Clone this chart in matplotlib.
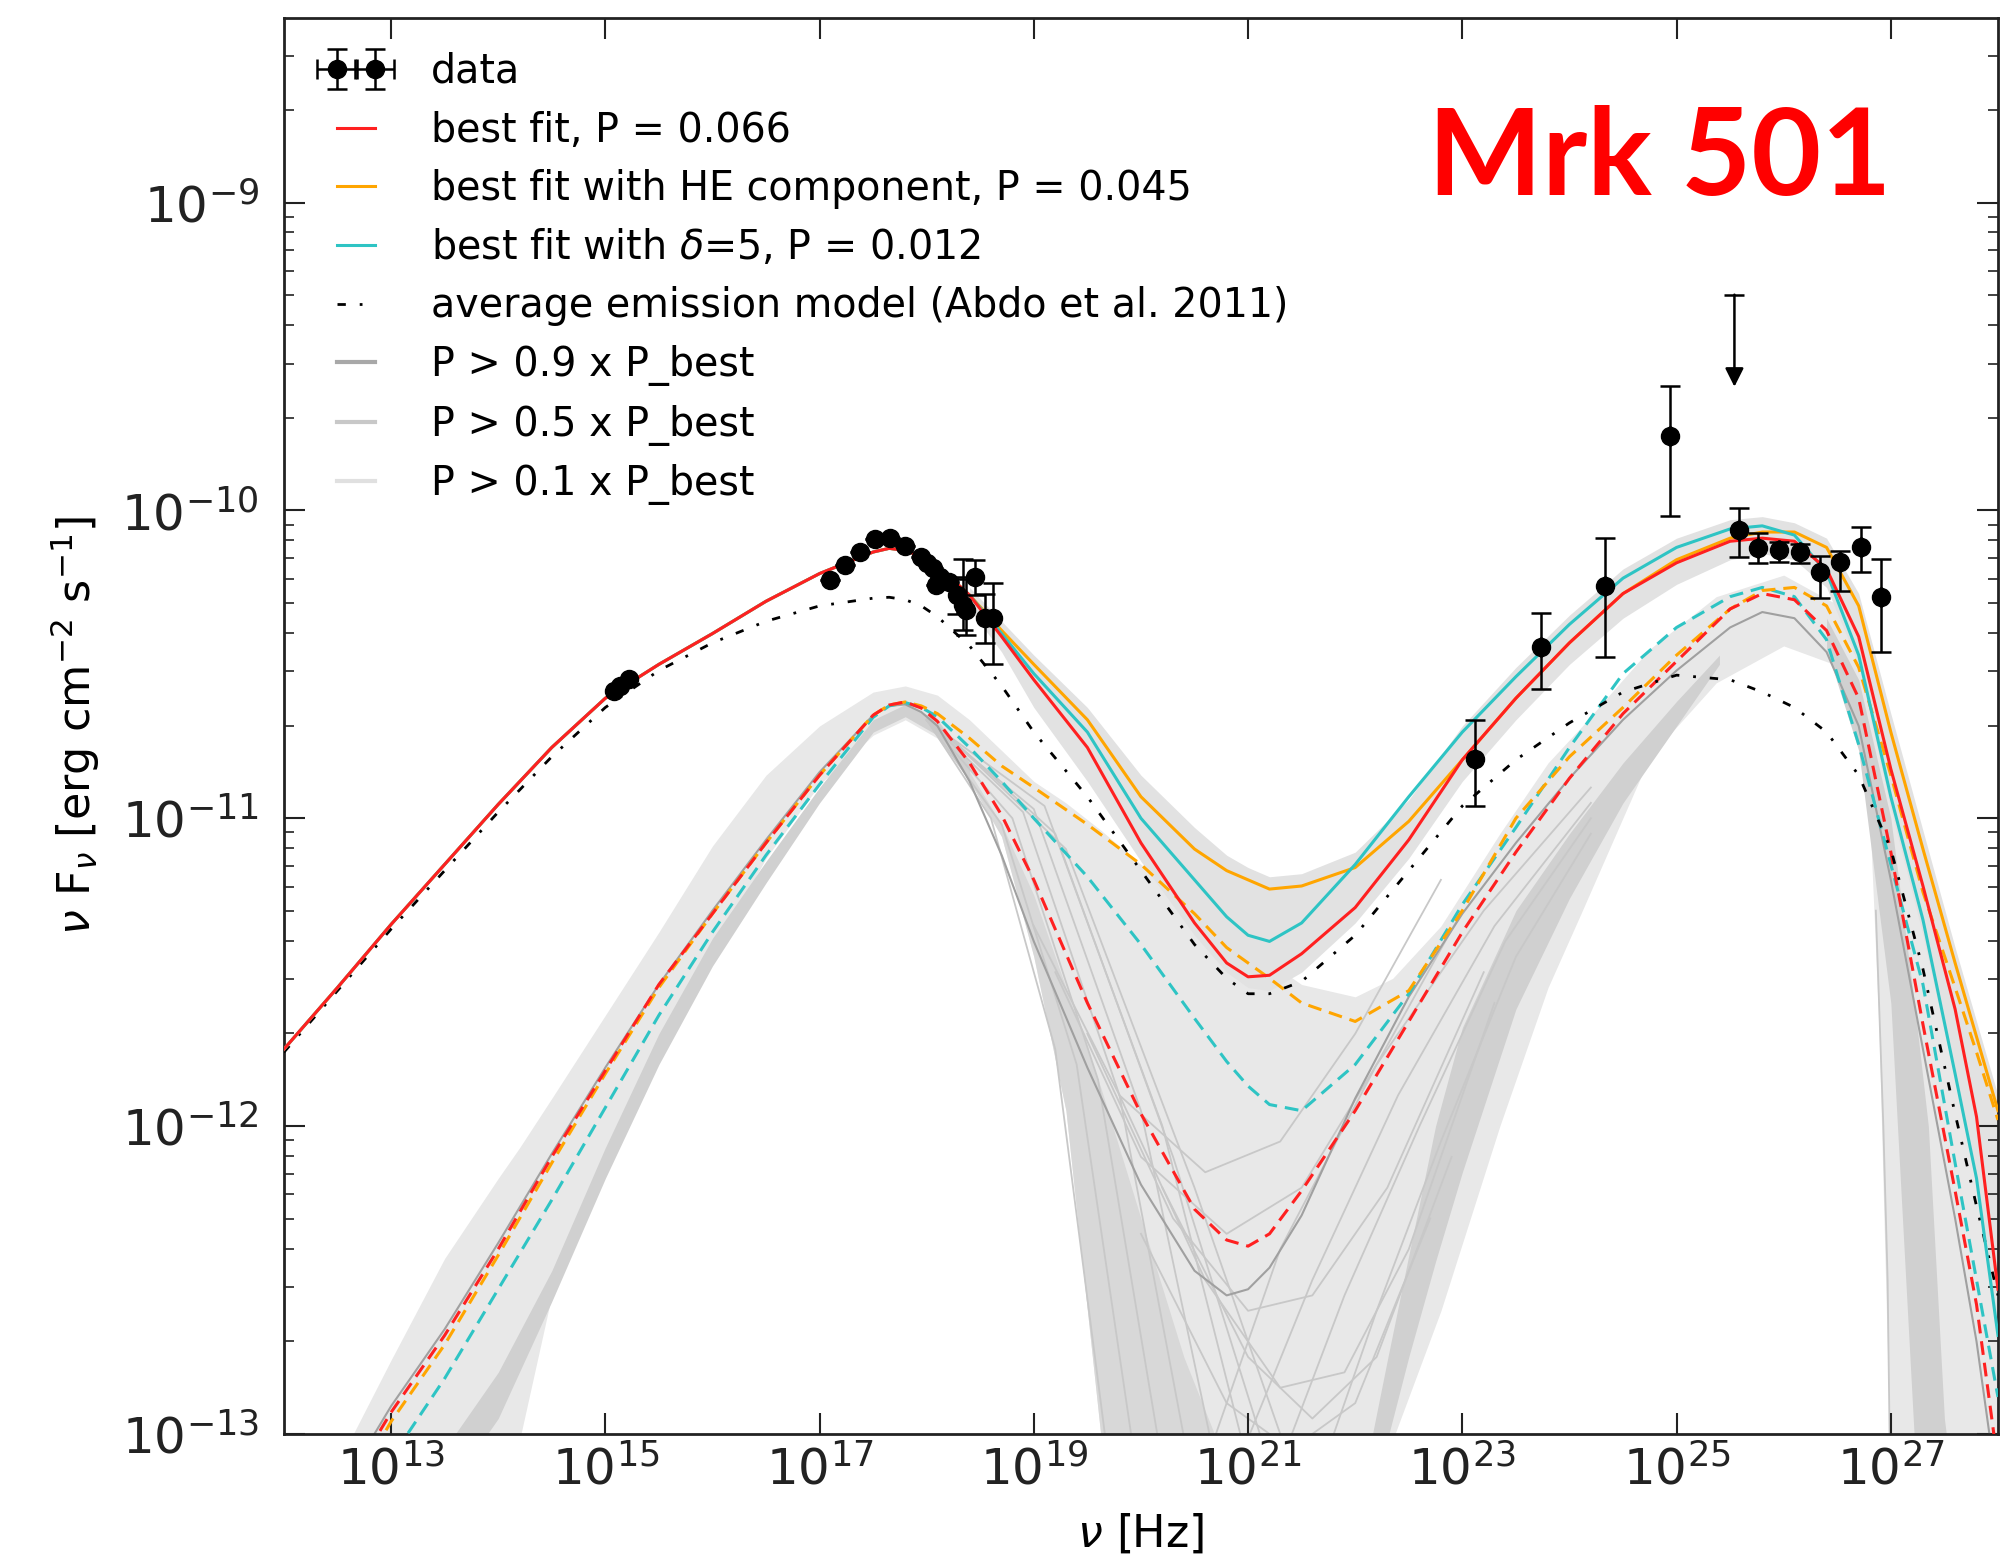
import numpy as np
import matplotlib
matplotlib.use('Agg')
import matplotlib.pyplot as plt
from matplotlib.lines import Line2D
from matplotlib.ticker import NullLocator

plt.rcParams['font.family'] = ['DejaVu Sans']
plt.rcParams['mathtext.fontset'] = 'dejavusans'

## ---------------- model curves (log10 units) ----------------
LOG_NU = [12.0, 12.5, 13.0, 13.5, 14.0, 14.5, 15.0, 15.5, 16.0, 16.5,
          17.0, 17.5, 17.65, 17.8, 17.95, 18.1, 18.4, 18.7, 19.0, 19.5, 20.0, 20.5,
          20.8, 21.0, 21.2, 21.5, 22.0, 22.5, 23.0, 23.5, 24.0, 24.5,
          25.0, 25.5, 25.8, 26.1, 26.4, 26.7, 27.0, 27.3, 27.6, 27.8, 28.0]

best_fit = [-11.75, -11.55, -11.345, -11.15, -10.955, -10.77, -10.61, -10.50, -10.40, -10.295,
            -10.205, -10.135, -10.123, -10.13, -10.15, -10.18, -10.275, -10.41, -10.55, -10.77, -11.08, -11.34,
            -11.47, -11.515, -11.51, -11.44, -11.29, -11.07, -10.81, -10.61, -10.43, -10.27,
            -10.17, -10.10, -10.09, -10.10, -10.19, -10.41, -10.84, -11.22, -11.62, -11.97, -12.53]

best_fit_he = [-11.75, -11.55, -11.345, -11.15, -10.955, -10.77, -10.61, -10.50, -10.40, -10.295,
               -10.205, -10.135, -10.123, -10.13, -10.15, -10.18, -10.275, -10.39, -10.50, -10.68, -10.93, -11.10,
               -11.17, -11.20, -11.23, -11.22, -11.16, -11.01, -10.81, -10.61, -10.43, -10.27,
               -10.16, -10.09, -10.07, -10.07, -10.12, -10.31, -10.72, -11.10, -11.47, -11.71, -11.95]

best_fit_d5 = [-11.75, -11.55, -11.345, -11.15, -10.955, -10.77, -10.61, -10.50, -10.40, -10.295,
               -10.205, -10.135, -10.123, -10.13, -10.15, -10.18, -10.275, -10.40, -10.53, -10.72, -11.00, -11.20,
               -11.32, -11.38, -11.40, -11.34, -11.15, -10.93, -10.72, -10.54, -10.37, -10.22,
               -10.12, -10.06, -10.05, -10.08, -10.20, -10.47, -10.93, -11.33, -11.83, -12.17, -12.68]

abdo_avg = [-11.76, -11.56, -11.36, -11.17, -10.98, -10.80, -10.64, -10.52, -10.43, -10.36,
            -10.31, -10.285, -10.282, -10.29, -10.31, -10.345, -10.44, -10.57, -10.72, -10.93, -11.17, -11.41,
            -11.52, -11.57, -11.57, -11.53, -11.38, -11.17, -10.96, -10.81, -10.69, -10.59,
            -10.535, -10.55, -10.59, -10.64, -10.72, -10.86, -11.10, -11.49, -11.96, -12.26, -12.55]

## second-zone components (dashed)
comp_best = [-13.55, -13.22, -12.93, -12.68, -12.40, -12.10, -11.82, -11.54, -11.31, -11.08,
             -10.86, -10.665, -10.632, -10.622, -10.642, -10.685, -10.82, -10.99, -11.20, -11.60, -11.96, -12.27,
             -12.37, -12.39, -12.35, -12.21, -11.95, -11.66, -11.37, -11.11, -10.87, -10.66,
             -10.49, -10.32, -10.27, -10.29, -10.39, -10.61, -11.11, -11.67, -12.21, -12.58, -13.1]

comp_he = [-13.6, -13.26, -12.96, -12.71, -12.42, -12.12, -11.83, -11.55, -11.31, -11.08,
           -10.86, -10.665, -10.632, -10.622, -10.635, -10.66, -10.74, -10.83, -10.90, -11.02, -11.15, -11.31,
           -11.42, -11.47, -11.52, -11.60, -11.66, -11.56, -11.30, -11.00, -10.80, -10.64,
           -10.47, -10.32, -10.26, -10.25, -10.31, -10.51, -10.86, -11.24, -11.55, -11.76, -11.98]

comp_d5 = [-13.7, -13.37, -13.08, -12.82, -12.53, -12.24, -11.94, -11.64, -11.37, -11.12,
           -10.89, -10.672, -10.635, -10.624, -10.64, -10.67, -10.77, -10.88, -11.00, -11.19, -11.41, -11.65,
           -11.79, -11.87, -11.93, -11.95, -11.80, -11.57, -11.28, -11.03, -10.77, -10.53,
           -10.38, -10.28, -10.25, -10.28, -10.42, -10.76, -11.15, -11.54, -12.12, -12.50, -12.88]

## one darker grey sample curve (P > 0.9)
sample_deep = [-13.5, -13.2, -12.91, -12.66, -12.38, -12.09, -11.81, -11.54, -11.30, -11.07,
               -10.85, -10.665, -10.635, -10.63, -10.655, -10.70, -10.88, -11.12, -11.40, -11.81, -12.19, -12.47,
               -12.55, -12.53, -12.46, -12.29, -11.91, -11.58, -11.31, -11.08, -10.87, -10.68,
               -10.52, -10.38, -10.33, -10.35, -10.46, -10.70, -11.20, -11.75, -12.30, -12.70, -13.2]

## ---------------- grey bands of accepted models ----------------
light_x = [12.5, 13.0, 13.5, 14.0, 14.2, 14.5, 15.0, 15.5, 16.0, 16.5, 17.0, 17.5, 17.8, 18.1,
           18.4, 18.7, 19.0, 19.3, 19.63, 20.0, 20.5, 21.0, 21.5, 22.0, 22.35, 22.8, 23.35,
           23.8, 24.12, 24.75, 25.37, 26.0, 26.47, 26.79, 26.89, 26.99, 27.3, 27.6, 28.0]
light_up = [-13.1, -12.76, -12.43, -12.17, -12.07, -11.91, -11.64, -11.37, -11.09, -10.86, -10.70,
            -10.59, -10.57, -10.60, -10.68, -10.78, -10.88, -10.95, -11.04, -11.15, -11.28, -11.42,
            -11.54, -11.58, -11.52, -11.35, -11.05, -10.82, -10.70, -10.45, -10.28, -10.21, -10.30,
            -10.55, -10.65, -10.78, -11.18, -11.52, -11.95]
light_dn = [-14, -14, -14, -13.6, -13.02, -12.55, -12.12, -11.77, -11.44, -11.13, -10.89,
            -10.73, -10.68, -10.74, -10.88, -11.06, -11.45, -11.95, -13.02, -14, -14, -14,
            -14, -14, -13.02, -12.6, -12.0, -11.55, -11.30, -10.80, -10.56, -10.44, -10.50,
            -10.88, -11.69, -13.02, -14, -14, -14]

top_x = [18.4, 18.7, 19.0, 19.5, 20.0, 20.5, 20.8, 21.0, 21.2, 21.5, 22.0, 22.5, 23.0, 23.5,
         24.0, 24.5, 25.0, 25.5, 25.8, 26.1, 26.4, 26.7, 27.0, 27.3, 27.6, 27.8, 28.0]
top_up = [-10.25, -10.36, -10.47, -10.64, -10.86, -11.03, -11.12, -11.16, -11.19, -11.18, -11.11,
          -10.94, -10.70, -10.51, -10.34, -10.19, -10.09, -10.03, -10.02, -10.04, -10.09, -10.27,
          -10.66, -11.04, -11.42, -11.66, -11.90]
top_dn = [-10.32, -10.46, -10.64, -10.88, -11.14, -11.38, -11.50, -11.55, -11.56, -11.50, -11.34,
          -11.13, -10.88, -10.68, -10.50, -10.35, -10.24, -10.16, -10.14, -10.16, -10.25, -10.50,
          -10.97, -11.38, -11.85, -12.2, -12.7]

dark_sync_x = [13.5, 13.8, 14.0, 14.5, 15.0, 15.5, 16.0, 16.5, 17.0, 17.5, 17.8, 18.1, 18.4]
dark_sync_up = [-13.05, -12.9, -12.8, -12.47, -12.07, -11.70, -11.39, -11.14, -10.90, -10.68, -10.63, -10.68, -10.82]
dark_sync_dn = [-14.0, -13.05, -12.95, -12.57, -12.17, -11.80, -11.48, -11.21, -10.95, -10.72, -10.67, -10.73, -10.88]

dark_wedge_x = [18.4, 18.7, 19.0, 19.3, 19.63, 20.0, 20.4, 20.8]
dark_wedge_up = [-10.85, -11.02, -11.25, -11.55, -11.88, -12.3, -12.75, -13.1]
dark_wedge_dn = [-10.88, -11.06, -11.45, -11.95, -13.02, -14, -14, -14]

dark_rise_x = [22.15, 22.3, 22.5, 22.75, 23.0, 23.5, 24.0, 24.5, 25.0, 25.4]
dark_rise_up = [-13.02, -12.76, -12.42, -12.0, -11.68, -11.3, -11.05, -10.82, -10.62, -10.47]
dark_rise_dn = [-14.0, -13.02, -12.75, -12.44, -12.15, -11.62, -11.26, -10.95, -10.70, -10.50]

dark_fall_x = [26.4, 26.7, 27.0, 27.22, 27.35, 27.5, 27.8]
dark_fall_up = [-10.35, -10.55, -11.0, -11.6, -12.0, -12.95, -13.8]
dark_fall_dn = [-10.45, -10.78, -11.6, -13.02, -14, -14, -14]

## individual grey sample curves in the trough
trough_x = [[18.0, 18.6, 19.2, 19.7], [18.0, 18.7, 19.4, 19.95], [18.0, 18.8, 19.6, 20.2],
            [18.0, 18.9, 19.8, 20.45], [18.0, 19.0, 20.0, 20.7], [18.0, 19.1, 20.2, 21.0],
            [18.1, 19.2, 20.3, 21.2], [18.1, 19.3, 20.5, 21.4],
            [20.6, 21.3, 22.2, 23.2, 24.2], [20.9, 21.6, 22.4, 23.3, 24.2],
            [21.3, 21.9, 22.6, 23.4, 24.2], [21.7, 22.2, 22.8, 23.5, 24.2],
            [19.5, 20.3, 21.0, 21.6, 22.3, 23.2], [19.8, 20.6, 21.3, 21.9, 22.5, 23.3],
            [20.2, 21.0, 21.6, 22.2, 22.9], [19.2, 20.0, 20.8, 21.5, 22.2, 23.0],
            [19.0, 19.8, 20.6, 21.3, 22.0, 22.8], [20.0, 20.8, 21.4, 22.0, 22.7],
            [26.86, 26.93, 26.97, 26.99]]
trough_y = [[-10.68, -11.0, -11.75, -13.1], [-10.68, -11.02, -11.8, -13.1], [-10.68, -11.0, -11.85, -13.1],
            [-10.68, -10.98, -11.9, -13.1], [-10.68, -10.97, -11.95, -13.1], [-10.68, -10.96, -12.0, -13.1],
            [-10.7, -11.05, -12.1, -13.1], [-10.7, -11.1, -12.2, -13.1],
            [-13.1, -12.4, -11.8, -11.3, -10.9], [-13.1, -12.5, -11.9, -11.35, -10.95],
            [-13.1, -12.55, -12.0, -11.4, -11.0], [-13.1, -12.6, -12.05, -11.45, -11.05],
            [-11.7, -12.3, -12.6, -12.55, -12.2, -11.5], [-11.9, -12.5, -12.85, -12.8, -12.4, -11.6],
            [-12.2, -12.75, -12.95, -12.75, -12.1], [-11.5, -12.1, -12.35, -12.2, -11.8, -11.3],
            [-11.35, -11.9, -12.15, -12.05, -11.7, -11.2], [-12.35, -12.9, -13.05, -12.9, -12.3],
            [-11.3, -12.0, -12.5, -13.05]]

## ---------------- data points (log10) ----------------
opt_nu = [15.08, 15.14, 15.22]
opt_f = [-10.585, -10.57, -10.548]

xray_nu = [17.10, 17.24, 17.38, 17.52, 17.66, 17.80, 17.95, 18.00, 18.06, 18.12, 18.09, 18.21,
           18.28, 18.34, 18.37, 18.45, 18.54, 18.62]
xray_f = [-10.226, -10.178, -10.134, -10.094, -10.091, -10.115, -10.15, -10.17, -10.188, -10.215,
          -10.242, -10.231, -10.275, -10.307, -10.323, -10.215, -10.35, -10.35]
xray_lo = [0, 0, 0, 0, 0, 0, 0, 0, 0, 0, 0, 0, 0.06, 0.08, 0.08, 0.06, 0.08, 0.15]
xray_hi = [0, 0, 0, 0, 0, 0, 0, 0, 0, 0, 0, 0, 0.06, 0.15, 0.10, 0.055, 0.08, 0.115]

gamma_nu = [23.12, 23.73, 24.33, 24.94, 25.58, 25.76, 25.96, 26.15, 26.34, 26.53, 26.72, 26.91]
gamma_f = [-10.809, -10.443, -10.246, -9.758, -10.062, -10.121, -10.129, -10.134, -10.199,
           -10.169, -10.118, -10.282]
gamma_low = [-10.96, -10.58, -10.477, -10.018, -10.15, -10.172, -10.168, -10.17, -10.283,
             -10.262, -10.2, -10.46]
gamma_high = [-10.681, -10.334, -10.091, -9.596, -9.991, -10.074, -10.104, -10.108, -10.148,
              -10.132, -10.054, -10.157]

ul_nu = 25.54
ul_top = -9.299
ul_tip = -9.598


def lin(a):
    return 10.0 ** np.asarray(a, dtype=float)


fig = plt.figure(figsize=(20.08, 15.62), dpi=100)
ax = fig.add_axes([0.1414, 0.0820, 0.8536, 0.9065])
ax.set_xscale('log')
ax.set_yscale('log')

LIGHT = '#e8e8e8'
DARK = '#d0d0d0'

## grey bands
ax.fill_between(lin(light_x), lin(light_dn), lin(light_up), color=LIGHT, lw=0, zorder=1)
ax.fill_between(lin(top_x), lin(top_dn), lin(top_up), color='#e2e2e2', lw=0, zorder=1)
ax.fill_between(lin(dark_sync_x), lin(dark_sync_dn), lin(dark_sync_up), color=DARK, lw=0, zorder=1.2)
ax.fill_between(lin(dark_wedge_x), lin(dark_wedge_dn), lin(dark_wedge_up), color='#d8d8d8', lw=0, zorder=1.2)
ax.fill_between(lin(dark_rise_x), lin(dark_rise_dn), lin(dark_rise_up), color=DARK, lw=0, zorder=1.2)
ax.fill_between(lin(dark_fall_x), lin(dark_fall_dn), lin(dark_fall_up), color=DARK, lw=0, zorder=1.2)

for tx, ty in zip(trough_x, trough_y):
    ax.plot(lin(tx), lin(ty), color='#c8c8c8', lw=1.3, zorder=1.5)

nu = lin(LOG_NU)
ax.plot(nu, lin(sample_deep), color='#a0a0a0', lw=1.5, zorder=2)

## components (dashed)
dash = (0, (4.5, 2.6))
ax.plot(nu, lin(comp_d5), color='#2ec4c4', lw=2.2, ls=dash, zorder=3)
ax.plot(nu, lin(comp_he), color='#ffa500', lw=2.2, ls=dash, zorder=3)
ax.plot(nu, lin(comp_best), color='#ff2020', lw=2.2, ls=dash, zorder=3.1)

## total models
l_avg, = ax.plot(nu, lin(abdo_avg), color='k', lw=2.0, ls=(0, (3, 5, 1, 5)), zorder=3.5,
                 label='average emission model (Abdo et al. 2011)')
l_he, = ax.plot(nu, lin(best_fit_he), color='#ffa500', lw=2.2, zorder=4,
                label='best fit with HE component, P = 0.045')
l_d5, = ax.plot(nu, lin(best_fit_d5), color='#2ec4c4', lw=2.2, zorder=4,
                label=r'best fit with $\delta$=5, P = 0.012')
l_best, = ax.plot(nu, lin(best_fit), color='#ff2020', lw=2.2, zorder=4.2,
                  label='best fit, P = 0.066')

## data
eb_kw = dict(fmt='o', color='k', ecolor='k', ms=13, elinewidth=1.8, capsize=7,
             capthick=1.8, zorder=6)
ax.errorbar(lin(opt_nu), lin(opt_f), **eb_kw)
xf = lin(xray_f)
ax.errorbar(lin(xray_nu), xf,
            yerr=[xf - lin(np.array(xray_f) - np.array(xray_lo)),
                  lin(np.array(xray_f) + np.array(xray_hi)) - xf], **eb_kw)
gf = lin(gamma_f)
gnu = lin(gamma_nu)
eb_data = ax.errorbar(gnu, gf, yerr=[gf - lin(gamma_low), lin(gamma_high) - gf],
                      xerr=np.zeros(len(gnu)), label='data', **eb_kw)

## upper limit
ax.annotate('', xy=(10 ** ul_nu, 10 ** ul_tip), xytext=(10 ** ul_nu, 10 ** ul_top),
            arrowprops=dict(arrowstyle='-|>', color='k', lw=1.8, mutation_scale=28,
                            shrinkA=0, shrinkB=0), zorder=6)
ax.plot([10 ** ul_nu], [10 ** ul_top], marker='_', ms=14, mew=1.8, color='k', zorder=6)

## axes
ax.set_xlim(1e12, 1e28)
ax.set_ylim(1e-13, 10 ** -8.4)
ax.set_xticks([10.0 ** k for k in range(13, 28, 2)])
ax.xaxis.set_minor_locator(NullLocator())
ax.tick_params(which='both', direction='in', top=True, right=True, colors='#222222')
ax.tick_params(which='major', length=15, width=1.5, labelsize=36)
ax.tick_params(which='minor', length=7, width=1.2)
ax.tick_params(axis='x', which='major', pad=8)
ax.tick_params(axis='y', which='major', pad=18)
for sp in ax.spines.values():
    sp.set_linewidth(2)
    sp.set_color('#222222')

ax.set_xlabel(r'$\nu$ [Hz]', fontsize=32)
ax.set_ylabel(r'$\nu$ F$_\nu$ [erg cm$^{-2}$ s$^{-1}$]', fontsize=32)
ax.xaxis.set_label_coords(0.5, -0.055)
ax.yaxis.set_label_coords(-0.106, 0.5)

## legend
g9 = Line2D([], [], color='#a8a8a8', lw=3)
g5 = Line2D([], [], color='#c8c8c8', lw=3)
g1 = Line2D([], [], color='#e0e0e0', lw=3)
handles = [eb_data, l_best, l_he, l_d5, l_avg, g9, g5, g1]
labels = ['data', 'best fit, P = 0.066', 'best fit with HE component, P = 0.045',
          r'best fit with $\delta$=5, P = 0.012', 'average emission model (Abdo et al. 2011)',
          'P > 0.9 x P_best', 'P > 0.5 x P_best', 'P > 0.1 x P_best']
ax.legend(handles, labels, loc='upper left', bbox_to_anchor=(0.024, 0.976),
          borderaxespad=0, borderpad=0, frameon=False, fontsize=28.5,
          handlelength=1.55, handletextpad=1.12, labelspacing=0.47, numpoints=2)

fig.text(0.711, 1 - 195 / 1562, 'Mrk 501', color='#ff0000', fontsize=87,
         fontweight='bold', family=['Lato', 'DejaVu Sans'], ha='left', va='baseline')

plt.savefig('out.png', dpi=100)
